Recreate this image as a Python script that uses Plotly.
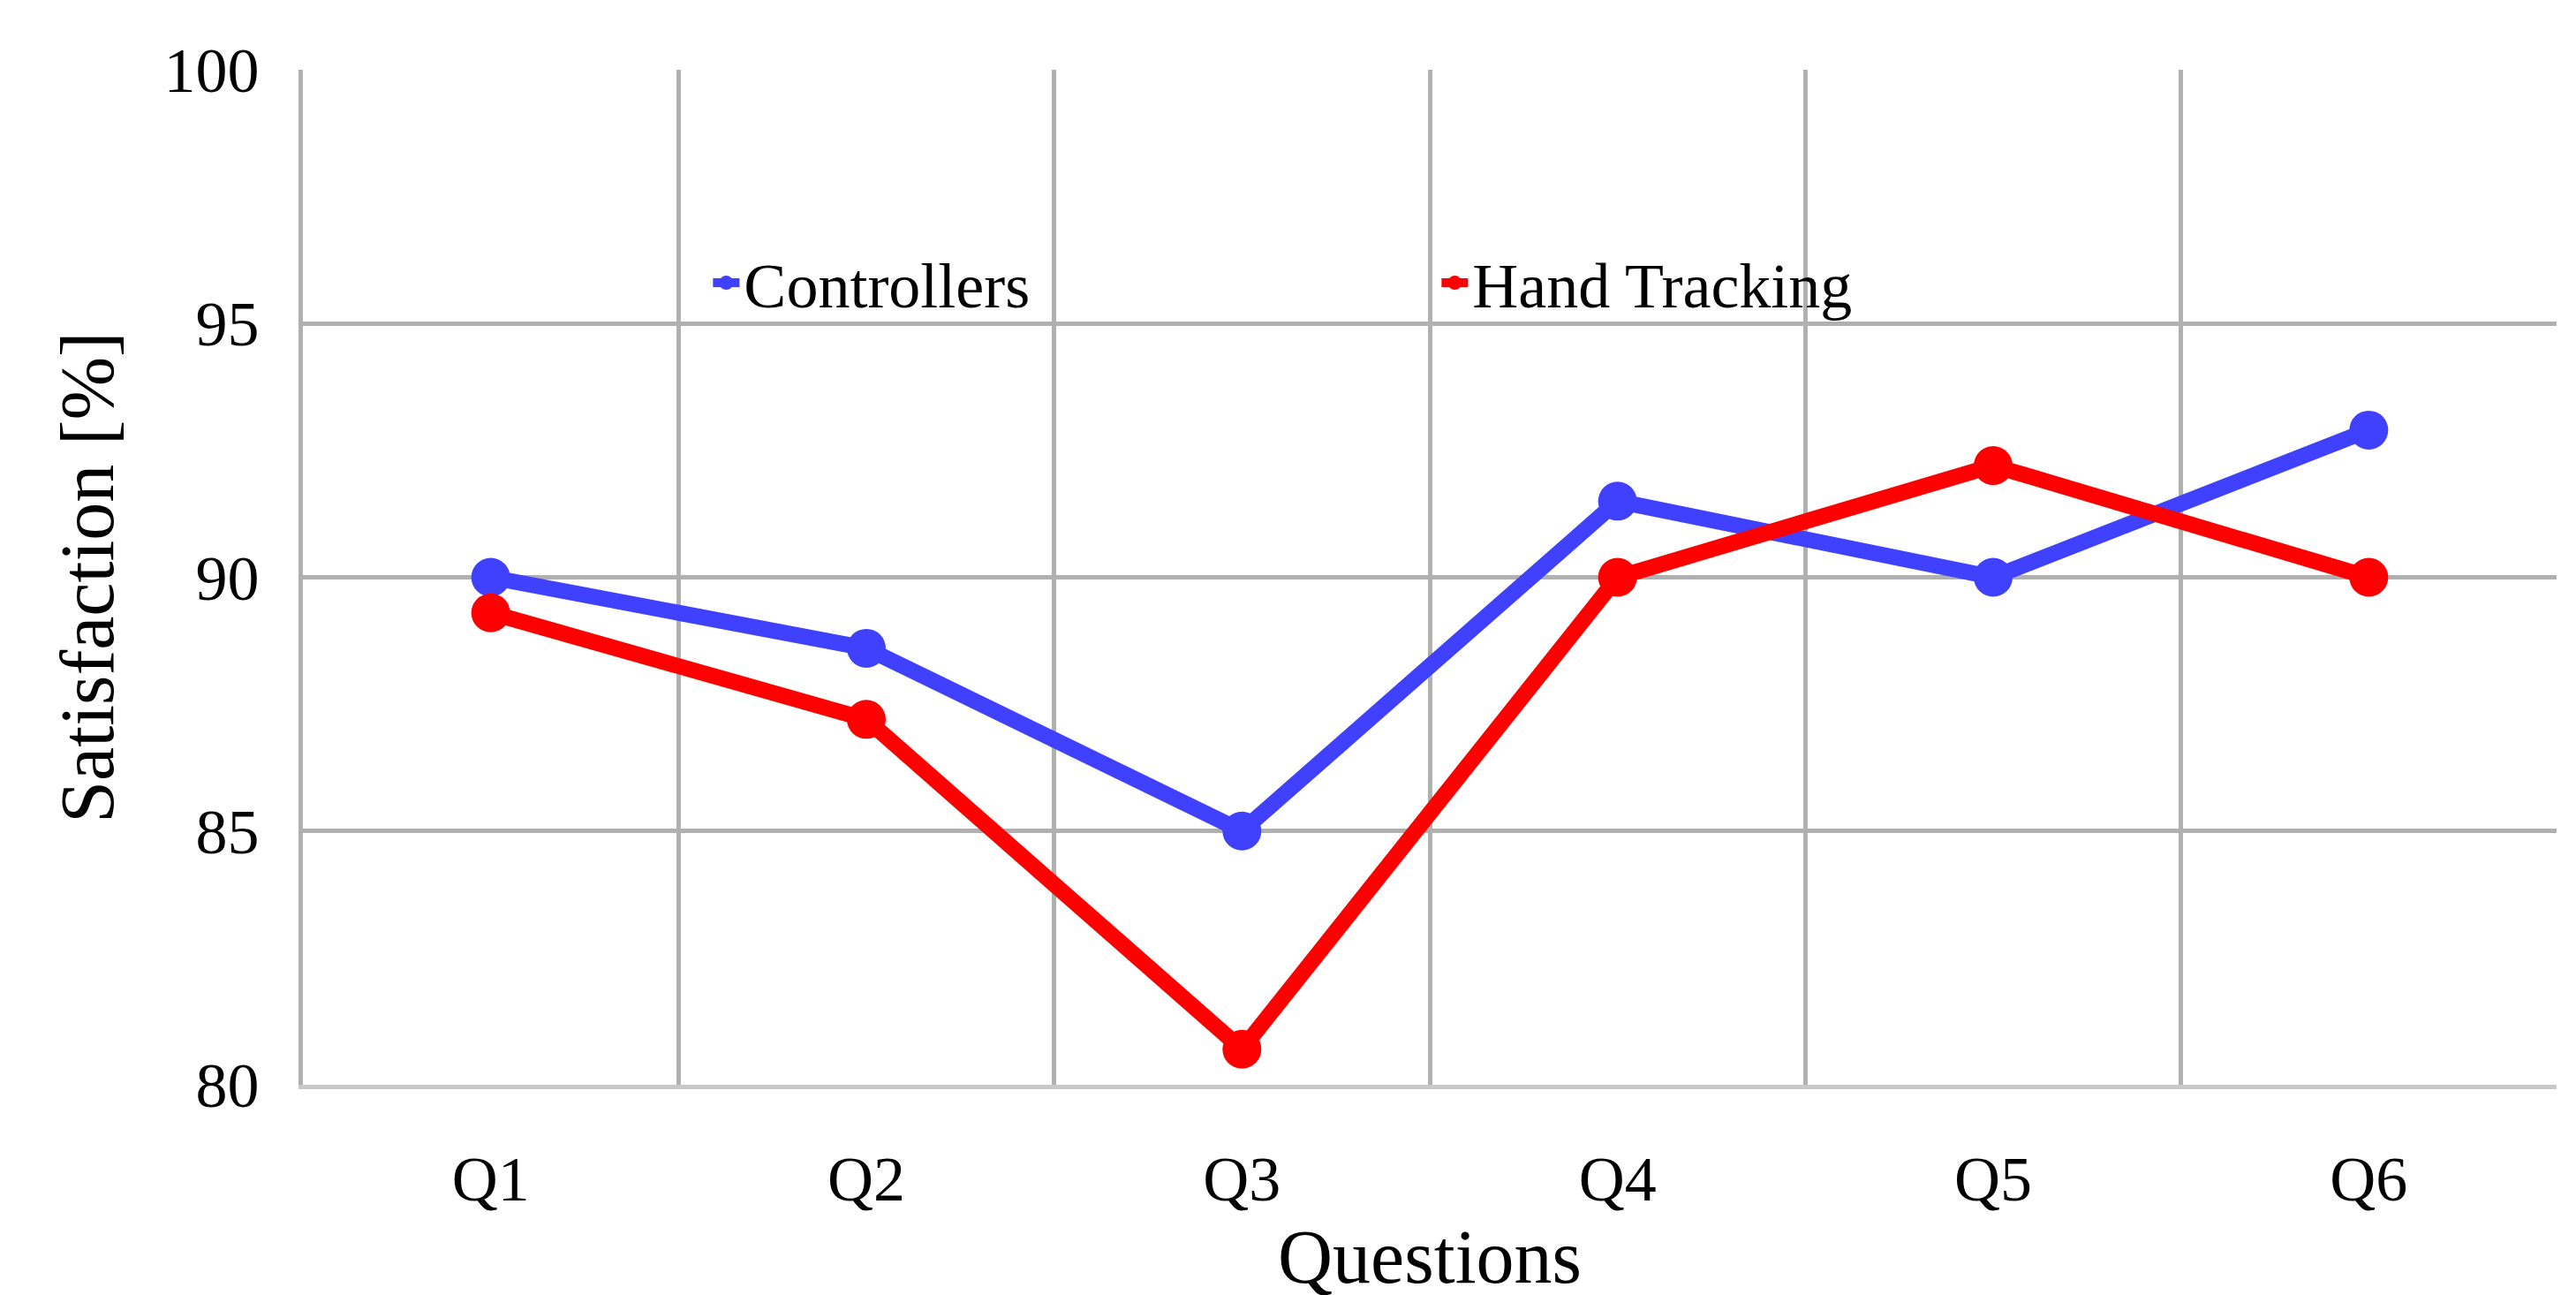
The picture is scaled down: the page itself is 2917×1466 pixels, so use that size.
import plotly.graph_objects as go

questions = ["Q1", "Q2", "Q3", "Q4", "Q5", "Q6"]
controllers = [90.0, 88.6, 85.0, 91.5, 90.0, 92.9]
hand_tracking = [89.3, 87.2, 80.7, 90.0, 92.2, 90.0]

fnt = "Liberation Serif"
fig = go.Figure()
fig.add_trace(go.Scatter(x=questions, y=controllers, name="Controllers", mode="lines+markers",
                         line=dict(color="#4040FF", width=18), marker=dict(size=44, color="#4040FF")))
fig.add_trace(go.Scatter(x=questions, y=hand_tracking, name="Hand Tracking", mode="lines+markers",
                         line=dict(color="#FF0000", width=18), marker=dict(size=44, color="#FF0000")))
fig.update_layout(
    width=2917, height=1466, paper_bgcolor="white", plot_bgcolor="white",
    margin=dict(l=335, r=30, t=71, b=246),
    font=dict(family=fnt, size=72, color="black"),
    legend=dict(orientation="h", x=0.18, y=0.79, xanchor="left", yanchor="middle",
                bgcolor="rgba(0,0,0,0)", font=dict(size=72), entrywidth=780),
    xaxis=dict(type="category", tickson="boundaries", showgrid=True, gridcolor="#B0B0B0", gridwidth=5,
               ticks="", title=dict(text="Questions", standoff=0), ticklabelstandoff=40,
               showline=True, linecolor="#C8C8C8", linewidth=5, range=[-0.5, 5.5]),
    yaxis=dict(range=[80, 100], dtick=5, showgrid=True, gridcolor="#B0B0B0", gridwidth=5,
               zeroline=False, showline=True, linecolor="#B0B0B0", linewidth=5,
               ticks="", ticklabelstandoff=30, title=dict(text="Satisfaction [%]", standoff=30)),
)
fig.write_html("out.html")
